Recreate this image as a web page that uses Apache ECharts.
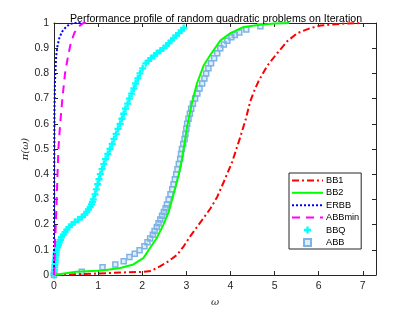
<!DOCTYPE html>
<html><head><meta charset="utf-8">
<script src="https://cdn.jsdelivr.net/npm/echarts@6/dist/echarts.min.js"></script>
<style>html,body{margin:0;padding:0;background:#fff}#c{width:415px;height:312px}</style>
</head><body><div id="c"></div>
<script>
// ---- data ----
const titleText = 'Performance profile of random quadratic problems on Iteration';
const xTicks = [0,1,2,3,4,5,6,7];
const yTicks = [0,0.1,0.2,0.3,0.4,0.5,0.6,0.7,0.8,0.9,1];
const seriesNames = ['BB1','BB2','ERBB','ABBmin','BBQ','ABB'];

const bb1X = [0,0.5,1.0,1.5,2.0,2.2,2.41,2.6,2.79,2.94,3.09,3.24,3.39,3.55,3.7,3.85,4.04,4.21,4.35,4.45,4.55,4.64,4.83,5.06,5.29,5.52,5.82,6.05,6.5,6.95];
const bb1Y = [0,0.003,0.006,0.01,0.012,0.016,0.035,0.055,0.08,0.114,0.154,0.19,0.226,0.265,0.31,0.37,0.449,0.54,0.62,0.69,0.735,0.77,0.829,0.88,0.928,0.96,0.98,0.99,0.997,1];

const bb2X = [0,0.5,1.1,1.5,1.8,2.03,2.18,2.33,2.48,2.6,2.71,2.83,2.9,3.02,3.13,3.24,3.39,3.55,3.77,4.0,4.3,4.68,5.0,5.33];
const bb2Y = [0,0.013,0.018,0.028,0.042,0.068,0.108,0.147,0.2,0.25,0.32,0.4,0.46,0.59,0.685,0.76,0.83,0.875,0.93,0.96,0.984,0.993,0.998,1];

const erbbX = [0,0.003,0.006,0.01,0.02,0.03,0.05,0.08,0.12,0.18,0.25,0.35,0.45,0.65];
const erbbY = [0,0.2,0.45,0.65,0.76,0.8,0.87,0.91,0.94,0.965,0.98,0.995,1,1];

const abbminX = [0,0.01,0.02,0.04,0.06,0.08,0.1,0.14,0.19,0.25,0.32,0.38,0.46,0.55,0.67,0.86];
const abbminY = [0,0.05,0.1,0.2,0.3,0.4,0.5,0.6,0.7,0.8,0.87,0.92,0.96,0.985,1,1];

const bbqX = [0,0.005,0.01,0.015,0.02,0.025,0.03,0.04,0.045,0.05,0.06,0.08,0.1,0.12,0.15,0.17,0.21,0.25,0.29,0.34,0.4,0.47,0.55,0.63,0.7,0.74,0.78,0.82,0.85,0.87,0.89,0.93,0.96,0.99,1.02,1.05,1.09,1.13,1.17,1.22,1.27,1.32,1.36,1.41,1.45,1.5,1.54,1.58,1.62,1.67,1.71,1.76,1.81,1.85,1.9,1.95,2.01,2.08,2.14,2.2,2.27,2.33,2.41,2.48,2.55,2.6,2.66,2.71,2.77,2.83,2.89,2.94];
const bbqY = [0,0.01,0.02,0.03,0.04,0.05,0.06,0.07,0.08,0.09,0.1,0.11,0.12,0.13,0.14,0.15,0.16,0.17,0.18,0.19,0.2,0.21,0.22,0.23,0.24,0.25,0.26,0.27,0.28,0.29,0.3,0.32,0.34,0.36,0.38,0.4,0.42,0.44,0.46,0.48,0.5,0.52,0.54,0.56,0.58,0.6,0.62,0.64,0.66,0.68,0.7,0.72,0.74,0.76,0.78,0.8,0.82,0.84,0.85,0.86,0.87,0.88,0.89,0.9,0.91,0.92,0.93,0.94,0.95,0.96,0.97,0.98];

const abbX = [0,0.63,1.1,1.39,1.58,1.71,1.83,1.94,2.05,2.12,2.18,2.24,2.28,2.33,2.37,2.41,2.45,2.49,2.53,2.56,2.6,2.64,2.68,2.71,2.74,2.77,2.8,2.83,2.86,2.88,2.9,2.93,2.96,2.98,3.0,3.02,3.05,3.08,3.11,3.15,3.2,3.25,3.3,3.36,3.41,3.45,3.5,3.56,3.63,3.7,3.77,3.85,3.93,4.02,4.1,4.2,4.36,4.68];
const abbY = [0,0.013,0.031,0.042,0.055,0.071,0.084,0.098,0.114,0.13,0.145,0.16,0.175,0.19,0.205,0.22,0.235,0.25,0.265,0.28,0.3,0.32,0.34,0.36,0.38,0.4,0.42,0.44,0.46,0.48,0.5,0.52,0.54,0.56,0.58,0.6,0.62,0.64,0.66,0.68,0.7,0.72,0.74,0.76,0.78,0.8,0.82,0.84,0.86,0.88,0.9,0.915,0.93,0.943,0.952,0.962,0.974,0.987];

// ---- chart ----
const pairs = (xs, ys) => xs.map((x, i) => [x, ys[i]]);
const axisColor = '#262626';
const plusPath = 'path://M2,0h2v2h2v2h-2v2h-2v-2h-2v-2h2z';
const squarePath = 'path://M0,0h10v10h-10z';

const baseX = {
  type: 'value', min: 0, max: 7.3, interval: 1,
  axisLine: {show: true, onZero: false, lineStyle: {color: axisColor, width: 1}},
  axisTick: {show: true, inside: true, length: 4, lineStyle: {color: axisColor}},
  splitLine: {show: false}
};
const baseY = {
  type: 'value', min: 0, max: 1, interval: 0.1,
  axisLine: {show: true, onZero: false, lineStyle: {color: axisColor, width: 1}},
  axisTick: {show: true, inside: true, length: 4, lineStyle: {color: axisColor}},
  splitLine: {show: false}
};

const lineLegend = name => ({name: name, itemStyle: {opacity: 0}});

const chart = echarts.init(document.getElementById('c'), null, {renderer: 'canvas'});
chart.setOption({
  animation: false,
  backgroundColor: '#fff',
  textStyle: {fontFamily: 'Liberation Sans, Arial, sans-serif'},
  title: {
    text: titleText, left: 65, top: 9, textAlign: 'left',
    textStyle: {fontSize: 10.6, fontWeight: 'normal', color: '#000', fontFamily: 'Liberation Sans, Arial, sans-serif'}
  },
  grid: {left: 54, right: 39, top: 23, bottom: 35, containLabel: false},
  xAxis: [
    Object.assign({}, baseX, {
      position: 'bottom',
      name: 'ω', nameLocation: 'middle', nameGap: 22, nameMoveOverlap: false,
      nameTextStyle: {fontSize: 10, color: axisColor, fontStyle: 'italic', fontFamily: 'DejaVu Serif, serif'},
      axisLabel: {show: true, fontSize: 10.5, color: axisColor, margin: 6, showMaxLabel: false,
        formatter: v => (Number.isInteger(v) && xTicks.includes(v)) ? String(v) : ''}
    }),
    Object.assign({}, baseX, {position: 'top', axisLabel: {show: false}})
  ],
  yAxis: [
    Object.assign({}, baseY, {
      position: 'left',
      name: 'π(ω)', nameLocation: 'middle', nameGap: 24, nameRotate: 90, nameMoveOverlap: false,
      nameTextStyle: {fontSize: 10, color: axisColor, fontStyle: 'italic', fontFamily: 'DejaVu Serif, serif'},
      axisLabel: {show: true, fontSize: 10.5, color: axisColor, margin: 5,
        formatter: v => { const t = yTicks.find(k => Math.abs(k - v) < 1e-9); return t === undefined ? '' : String(t); }}
    }),
    Object.assign({}, baseY, {position: 'right', axisLabel: {show: false}})
  ],
  legend: {
    orient: 'vertical', left: 289, top: 173,
    padding: [2.4, 2, 1.6, 2], itemGap: 2.4, itemWidth: 31, itemHeight: 7,
    backgroundColor: '#fff', borderColor: axisColor, borderWidth: 1,
    textStyle: {fontSize: 9.2, lineHeight: 10, color: '#000', padding: [0, 0, 0, -2]},
    data: [lineLegend('BB1'), lineLegend('BB2'), lineLegend('ERBB'), lineLegend('ABBmin'), {name: 'BBQ'}, {name: 'ABB'}]
  },
  series: [
    {name: 'BB1', type: 'line', data: pairs(bb1X, bb1Y), showSymbol: false, symbol: 'none',
      color: '#ff0000', lineStyle: {color: '#ff0000', width: 2, type: [7, 3, 2, 3]}},
    {name: 'BB2', type: 'line', data: pairs(bb2X, bb2Y), showSymbol: false, symbol: 'none',
      color: '#00ff00', lineStyle: {color: '#00ff00', width: 2}},
    {name: 'ERBB', type: 'line', data: pairs(erbbX, erbbY), showSymbol: false, symbol: 'none',
      color: '#0000ff', lineStyle: {color: '#0000ff', width: 2, type: [2, 2]}},
    {name: 'ABBmin', type: 'line', data: pairs(abbminX, abbminY), showSymbol: false, symbol: 'none',
      color: '#ff00ff', lineStyle: {color: '#ff00ff', width: 2, type: [8, 6]}},
    {name: 'BBQ', type: 'scatter', data: pairs(bbqX, bbqY), symbol: plusPath, symbolSize: 7,
      itemStyle: {color: '#00ffff', opacity: 1}},
    {name: 'ABB', type: 'scatter', data: pairs(abbX, abbY), symbol: squarePath, symbolSize: 5,
      itemStyle: {color: 'rgba(126,179,230,0.25)', borderColor: '#7eb3e6', borderWidth: 1.5, opacity: 1}}
  ]
});
</script></body></html>
